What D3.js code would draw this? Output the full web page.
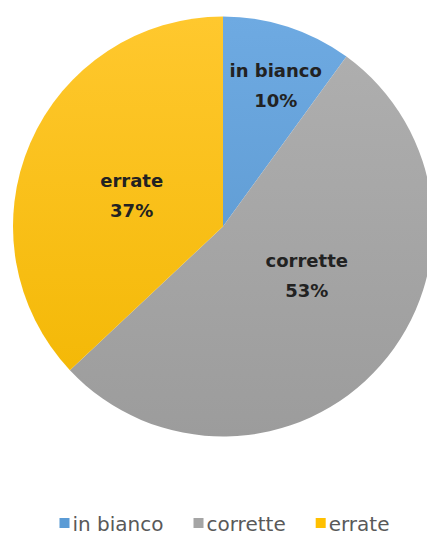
<!DOCTYPE html>
<html>
<head>
<meta charset="utf-8">
<script src="https://cdn.jsdelivr.net/npm/d3@7"></script>
<style>
  html, body { margin: 0; padding: 0; background: #fff; }
  svg { display: block; }
  .slice-label { font-family: "DejaVu Sans", sans-serif; font-weight: bold; font-size: 18px; fill: #222; }
  .legend-text { font-family: "DejaVu Sans", sans-serif; font-size: 20px; fill: #595959; }
</style>
</head>
<body>
<div id="chart"></div>
<script>
// Risposte: in bianco / corrette / errate
const categories = ['in bianco', 'corrette', 'errate'];
const values = [10, 53, 37];
const colors = ['#5b9bd5', '#a5a5a5', '#ffc000'];
const colorsTop = ['#6eaae2', '#b0b0b0', '#ffc82e'];

const width = 427;
const height = 535;
const radius = 210;
const cx = 223, cy = 226.5;

const svg = d3.select('#chart')
    .append('svg')
    .attr('width', width)
    .attr('height', height);

// vertical gradients, like the Excel default style
const defs = svg.append('defs');
categories.forEach((c, i) => {
    const grad = defs.append('linearGradient')
        .attr('id', 'grad' + i)
        .attr('gradientUnits', 'userSpaceOnUse')
        .attr('x1', 0).attr('y1', -radius)
        .attr('x2', 0).attr('y2', radius);
    grad.append('stop').attr('offset', '0%').attr('stop-color', colorsTop[i]);
    grad.append('stop').attr('offset', '100%').attr('stop-color', d3.color(colors[i]).darker(0.15));
});

const data = categories.map((c, i) => ({ name: c, value: values[i], index: i }));
const total = d3.sum(values);

const pie = d3.pie()
    .value(d => d.value)
    .sort(null);

const arc = d3.arc()
    .innerRadius(0)
    .outerRadius(radius);

const g = svg.append('g')
    .attr('transform', `translate(${cx}, ${cy})`);

const arcs = pie(data);

g.selectAll('.slice')
    .data(arcs)
    .enter()
    .append('path')
    .attr('class', 'slice')
    .attr('d', arc)
    .attr('fill', d => `url(#grad${d.data.index})`);

// labels - small slices sit further out
const labelArc = d3.arc().innerRadius(radius * 0.5).outerRadius(radius * 0.5);
const outerLabelArc = d3.arc().innerRadius(radius * 0.72).outerRadius(radius * 0.72);

const labels = g.selectAll('.slice-label')
    .data(arcs)
    .enter()
    .append('text')
    .attr('class', 'slice-label')
    .attr('text-anchor', 'middle')
    .attr('transform', d => {
        const frac = d.data.value / total;
        let x, y;
        if (frac < 0.15) {
            [x, y] = outerLabelArc.centroid(d);
            x += 6;
            y -= 2;
        } else {
            // pull the big labels toward the horizontal, as Excel does
            [x, y] = labelArc.centroid(d);
            y = y * 0.45 + (y > 0 ? 13 : -17);
            x += 5;
        }
        return `translate(${x}, ${y})`;
    });

labels.append('tspan')
    .attr('x', 0)
    .attr('dy', '-0.2em')
    .text(d => d.data.name);

labels.append('tspan')
    .attr('x', 0)
    .attr('dy', '1.66em')
    .text(d => Math.round(d.data.value / total * 100) + '%');

// legend
const legend = svg.append('g').attr('class', 'legend');
let lx = 0;
const items = legend.selectAll('.legend-item-group')
    .data(data)
    .enter()
    .append('g')
    .attr('class', 'legend-item-group');

items.append('rect')
    .attr('width', 10)
    .attr('height', 10)
    .attr('y', -13)
    .attr('fill', d => colors[d.index]);

items.append('text')
    .attr('class', 'legend-text')
    .attr('x', 13)
    .attr('y', 0)
    .text(d => d.name);

items.each(function() {
    const w = d3.select(this).select('text').node().getComputedTextLength();
    d3.select(this).attr('transform', `translate(${lx}, 0)`);
    lx += 13 + w + 30;
});
lx -= 30;
legend.attr('transform', `translate(${(width - lx) / 2 + 11}, 531)`);
</script>
</body>
</html>
